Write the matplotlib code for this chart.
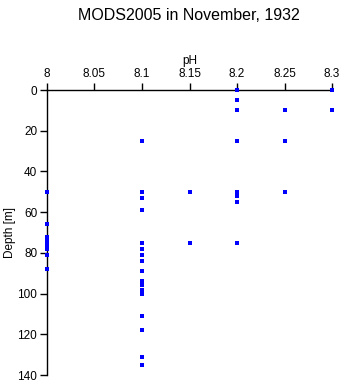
import matplotlib

matplotlib.use("Agg")
import matplotlib.pyplot as plt

plt.rcParams["font.family"] = ["Liberation Sans", "DejaVu Sans"]

# pH readings per station depth, grouped by value
ph_8_00 = [50, 66, 72, 73, 75, 77, 78, 81, 88]
ph_8_10 = [25, 50, 53, 59, 75, 78, 81, 84, 89, 94, 96, 98, 100, 111, 118, 131, 135]
ph_8_15 = [50, 75]
ph_8_20 = [0, 5, 10, 25, 50, 52, 55, 75]
ph_8_25 = [10, 25, 50]
ph_8_30 = [0, 10]

groups = [
    (8.00, ph_8_00),
    (8.10, ph_8_10),
    (8.15, ph_8_15),
    (8.20, ph_8_20),
    (8.25, ph_8_25),
    (8.30, ph_8_30),
]
ph = [p for p, depths in groups for _ in depths]
depth = [d for _, depths in groups for d in depths]

x_ticks = [8, 8.05, 8.1, 8.15, 8.2, 8.25, 8.3]
x_tick_labels = ["8", "8.05", "8.1", "8.15", "8.2", "8.25", "8.3"]
y_ticks = [0, 20, 40, 60, 80, 100, 120, 140]

fig = plt.figure(figsize=(3.43, 3.84), dpi=100)
ax = fig.add_axes([0.137, 0.0234, 0.831, 0.7422])

ax.scatter(ph, depth, marker="s", s=5, color="#0000ff", linewidths=0,
           clip_on=False, zorder=4)

ax.set_xlim(8, 8.3)
ax.set_ylim(140, 0)
ax.set_xticks(x_ticks)
ax.set_xticklabels(x_tick_labels)
ax.set_yticks(y_ticks)

ax.xaxis.tick_top()
ax.xaxis.set_label_position("top")
ax.set_xlabel("pH", fontsize=8.5, labelpad=3)
ax.set_ylabel("Depth [m]", fontsize=8.5)
ax.yaxis.set_label_coords(-0.11, 0.5)

for side in ("right", "bottom"):
    ax.spines[side].set_visible(False)
for side in ("left", "top"):
    ax.spines[side].set_linewidth(1.0)

ax.tick_params(direction="out", length=5, width=1, labelsize=8.5, pad=2)

# title sits centred over the plot area rather than the figure
fig.text(0.551, 0.96, "MODS2005 in November, 1932", ha="center", va="center",
         fontsize=11.5)

fig.savefig("out.png", dpi=100)
plt.close(fig)
